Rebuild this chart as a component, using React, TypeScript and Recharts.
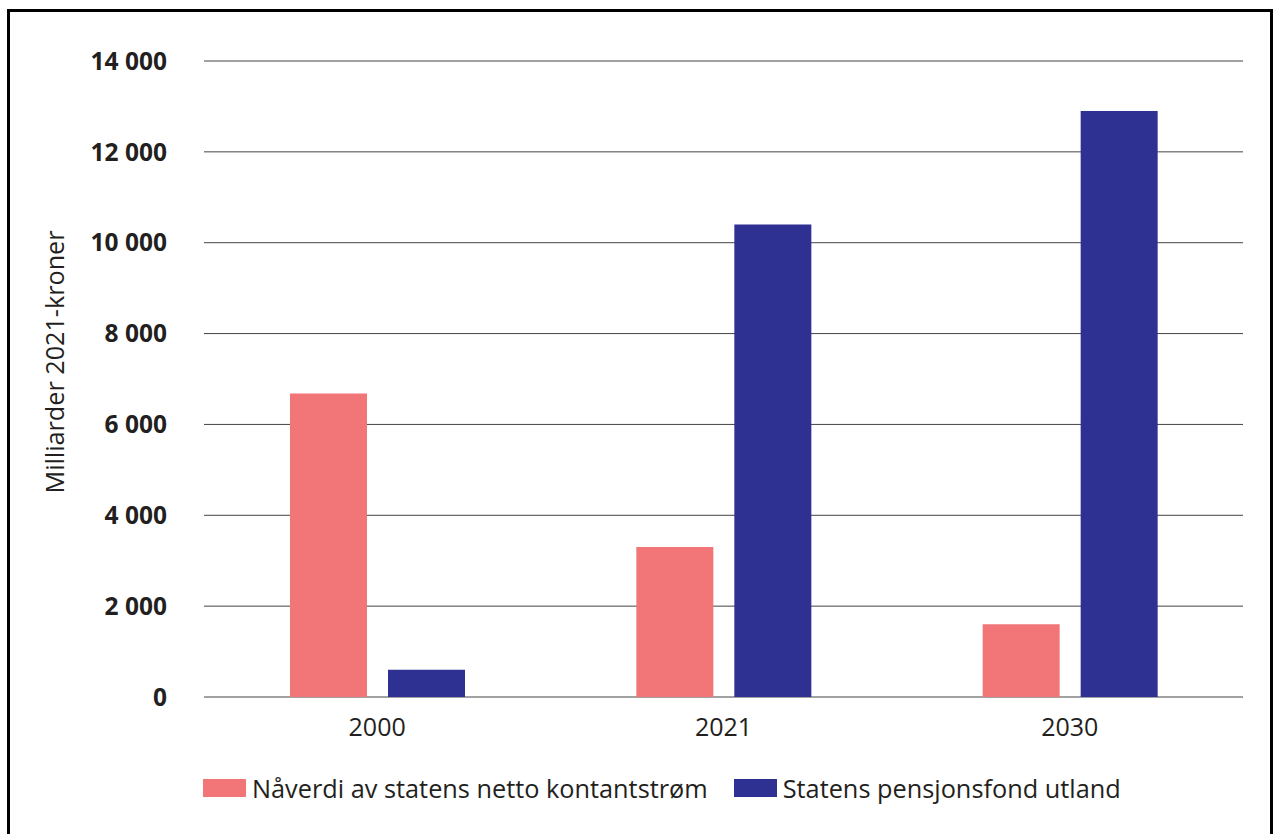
import React from "react";
import { BarChart, Bar, XAxis, YAxis, CartesianGrid, Legend } from "recharts";

const years = ["2000", "2021", "2030"];
const naverdi = [6680, 3300, 1600];
const pensjonsfond = [600, 10400, 12900];
const yTicks = [0, 2000, 4000, 6000, 8000, 10000, 12000, 14000];

const seriesNames = ["Nåverdi av statens netto kontantstrøm", "Statens pensjonsfond utland"];
const colors = ["#F27577", "#2E3192"];

const data = years.map((year, i) => ({
  year,
  naverdi: naverdi[i],
  spu: pensjonsfond[i],
}));

const font = "'Open Sans', 'Noto Sans', sans-serif";
const textColor = "#231F20";

const formatTick = (v: number) => String(v).replace(/\B(?=(\d{3})+(?!\d))/g, " ");

function LegendContent() {
  return (
    <div style={{ display: "flex", alignItems: "center", height: 34, fontFamily: font, fontSize: 25.3, color: textColor }}>
      {seriesNames.map((name, i) => (
        <div key={name} style={{ display: "flex", alignItems: "center", marginRight: 26 }}>
          <span style={{ display: "inline-block", width: 43, height: 18, background: colors[i], marginRight: 6 }} />
          <span style={{ whiteSpace: "nowrap" }}>{name}</span>
        </div>
      ))}
    </div>
  );
}

export default function App() {
  return (
    <div
      style={{
        position: "fixed",
        left: 7,
        top: 9,
        width: 1266,
        height: 840,
        border: "3px solid #000",
        boxSizing: "border-box",
        background: "#fff",
      }}
    >
      <BarChart
        width={1260}
        height={800}
        data={data}
        margin={{ top: 49, right: 27, left: 0, bottom: 75 }}
        barSize={77}
        barGap={21}
      >
        <CartesianGrid horizontal vertical={false} stroke="#444" strokeWidth={1} />
        <XAxis
          dataKey="year"
          height={40}
          axisLine={false}
          tickLine={false}
          tickSize={0}
          tickMargin={21}
          tick={{ fill: textColor, fontSize: 25, fontFamily: font }}
        />
        <YAxis
          width={194}
          domain={[0, 14000]}
          ticks={yTicks}
          tickFormatter={formatTick}
          axisLine={false}
          tickLine={false}
          tickSize={0}
          tickMargin={37}
          tick={{ fill: textColor, fontSize: 24.5, fontWeight: 700, fontFamily: font }}
          label={{
            value: "Milliarder 2021-kroner",
            angle: -90,
            position: "center",
            dx: -52,
            dy: -17,
            fill: textColor,
            fontSize: 25.2,
            fontFamily: font,
          }}
        />
        <Legend
          layout="horizontal"
          verticalAlign="middle"
          wrapperStyle={{ top: 759, left: 193, width: "auto" }}
          content={<LegendContent />}
        />
        <Bar dataKey="naverdi" name={seriesNames[0]} fill={colors[0]} isAnimationActive={false} />
        <Bar dataKey="spu" name={seriesNames[1]} fill={colors[1]} isAnimationActive={false} />
      </BarChart>
    </div>
  );
}
